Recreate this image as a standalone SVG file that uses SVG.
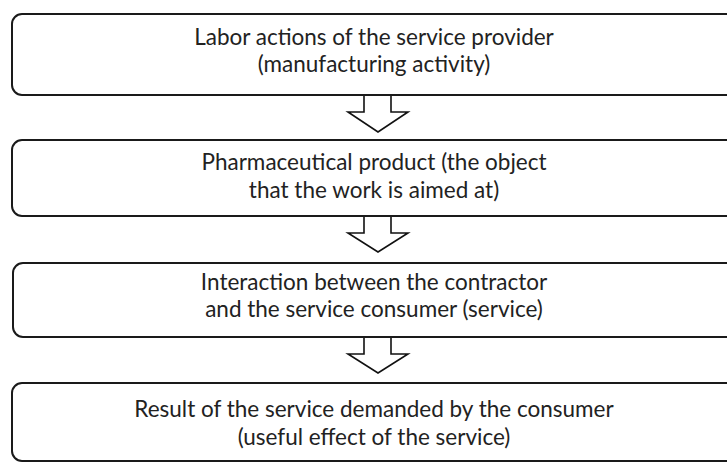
<svg xmlns="http://www.w3.org/2000/svg" width="727" height="462" viewBox="0 0 727 462">
<style>
.box{fill:#fff;stroke:#1a1a1a;stroke-width:2}
.arr{fill:#fff;stroke:#111;stroke-width:1.6;stroke-linejoin:miter}
.t{font-family:Lato,"Open Sans","Liberation Sans",sans-serif;font-size:22.5px;fill:#222;text-anchor:middle}
</style>
<rect width="727" height="462" fill="#fff"/>
<g id="connectors">
<polyline class="arr" points="364,95 364,112 348,112 378,132 408,112 391,112 391,95"/>
<polyline class="arr" points="364,216 364,233 348,233 378,252 408,233 391,233 391,216"/>
<polyline class="arr" points="364,337 364,354 348,354 378,373 408,354 391,354 391,337"/>
</g>
<g id="node1">
<rect class="box" x="12" y="14" width="740" height="81" rx="10"/>
<text class="t" x="374" y="45">Labor actions of the service provider</text>
<text class="t" x="374" y="72">(manufacturing activity)</text>
</g>
<g id="node2">
<rect class="box" x="12" y="140" width="740" height="76" rx="10"/>
<text class="t" x="374" y="170">Pharmaceutical product (the object</text>
<text class="t" x="374" y="198">that the work is aimed at)</text>
</g>
<g id="node3">
<rect class="box" x="13" y="263" width="740" height="74" rx="10"/>
<text class="t" x="374" y="290">Interaction between the contractor</text>
<text class="t" x="374" y="317">and the service consumer (service)</text>
</g>
<g id="node4">
<rect class="box" x="12" y="383" width="740" height="78" rx="10"/>
<text class="t" x="374" y="417">Result of the service demanded by the consumer</text>
<text class="t" x="374" y="445">(useful effect of the service)</text>
</g>
</svg>
